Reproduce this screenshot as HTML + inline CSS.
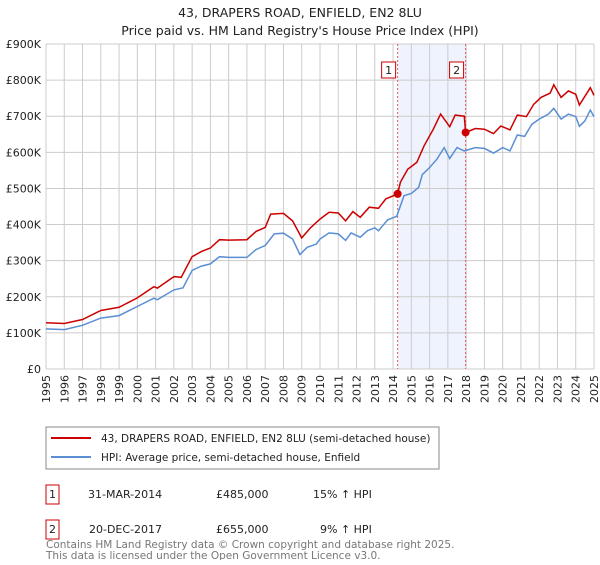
<!DOCTYPE html>
<html><head><meta charset="utf-8"><style>
body{margin:0;background:#fff;font-family:"Liberation Sans","DejaVu Sans",sans-serif;}
svg text{font-family:"DejaVu Sans","Liberation Sans",sans-serif;}
</style></head><body>
<svg id="c" width="600" height="560" viewBox="0 0 600 560">
<text x="300" y="17" text-anchor="middle" font-size="12.5" fill="#222">43, DRAPERS ROAD, ENFIELD, EN2 8LU</text>
<text x="300" y="35" text-anchor="middle" font-size="12.5" fill="#222">Price paid vs. HM Land Registry's House Price Index (HPI)</text>
<g id="plot"></g>
<rect x="46" y="427" width="393" height="42" fill="#fff" stroke="#888"/>
<line x1="51" y1="438" x2="91" y2="438" stroke="#cc0000" stroke-width="2"/>
<text x="101" y="442" font-size="10.5" fill="#222">43, DRAPERS ROAD, ENFIELD, EN2 8LU (semi-detached house)</text>
<line x1="51" y1="457" x2="91" y2="457" stroke="#5b8fd4" stroke-width="2"/>
<text x="101" y="461" font-size="10.5" fill="#222">HPI: Average price, semi-detached house, Enfield</text>
<rect x="46" y="485" width="13" height="19" fill="#fff" stroke="#cc0000"/>
<text x="52.5" y="498" text-anchor="middle" font-size="11" fill="#222">1</text>
<text x="88" y="498" font-size="11" fill="#222">31-MAR-2014</text>
<text x="216" y="498" font-size="11" fill="#222">£485,000</text>
<text x="313" y="498" font-size="11" fill="#222">15% ↑ HPI</text>
<rect x="46" y="520" width="13" height="19" fill="#fff" stroke="#cc0000"/>
<text x="52.5" y="533" text-anchor="middle" font-size="11" fill="#222">2</text>
<text x="89" y="533" font-size="11" fill="#222">20-DEC-2017</text>
<text x="216" y="533" font-size="11" fill="#222">£655,000</text>
<text x="320" y="533" font-size="11" fill="#222">9% ↑ HPI</text>
<text x="46" y="548" font-size="10.5" fill="#777">Contains HM Land Registry data © Crown copyright and database right 2025.</text>
<text x="46" y="559" font-size="10.5" fill="#777">This data is licensed under the Open Government Licence v3.0.</text>
</svg>
<script>
const hpiYears=[1995,1996,1997,1998,1999,2000,2000.9,2001.1,2002,2002.5,2003,2003.5,2004,2004.5,2005,2006,2006.5,2007,2007.5,2008,2008.5,2008.9,2009.3,2009.8,2010,2010.5,2011,2011.4,2011.7,2012.2,2012.6,2013,2013.2,2013.7,2014.2,2014.6,2015,2015.4,2015.6,2016,2016.4,2016.8,2017.1,2017.5,2017.9,2018.5,2019,2019.5,2020,2020.4,2020.8,2021.2,2021.6,2022,2022.5,2022.8,2023.2,2023.6,2024,2024.2,2024.5,2024.8,2025];
const hpiValues=[111,109,121,141,148,173,196,192,219,225,273,285,291,311,309,309,331,342,374,376,360,317,337,346,360,377,374,356,377,365,383,391,383,413,423,480,486,503,538,558,581,613,583,613,604,613,611,598,613,604,648,644,678,692,706,722,692,706,699,672,687,717,699];
const redYears=[1995,1996,1997,1998,1999,2000,2000.9,2001.1,2002,2002.4,2003,2003.5,2004,2004.5,2005,2006,2006.5,2007,2007.3,2008,2008.5,2009,2009.5,2010,2010.5,2011,2011.4,2011.8,2012.2,2012.7,2013.2,2013.6,2014.25,2014.4,2014.8,2015.3,2015.7,2016.2,2016.6,2017.1,2017.4,2017.9,2017.97,2018.5,2019,2019.5,2019.9,2020.4,2020.8,2021.3,2021.7,2022.1,2022.6,2022.8,2023.2,2023.6,2024,2024.2,2024.8,2025];
const redValues=[128,126,137,162,171,197,228,224,256,254,311,325,335,358,357,358,381,392,429,431,410,363,392,415,434,432,410,436,420,448,445,471,485,517,553,572,618,664,706,671,703,700,655,666,664,652,673,662,703,699,733,752,764,787,752,770,761,731,779,758];
const saleYears=[2014.25,2017.97];
const saleValues=[485,655];
const yTicks=[0,100,200,300,400,500,600,700,800,900];
const yTickLabels=["£0","£100K","£200K","£300K","£400K","£500K","£600K","£700K","£800K","£900K"];
const NS='http://www.w3.org/2000/svg';
const L=46,R=594,T=44,B=369,Y0=1995,Y1=2025,VMAX=900;
const xs=y=>L+(y-Y0)/(Y1-Y0)*(R-L);
const ys=v=>B-v/VMAX*(B-T);
const g=document.getElementById('plot');
function mk(t,a){const e=document.createElementNS(NS,t);for(const k in a)e.setAttribute(k,a[k]);g.appendChild(e);return e;}
let e=mk('rect',{x:xs(saleYears[0]),y:T,width:xs(saleYears[1])-xs(saleYears[0]),height:B-T,fill:'#eef3fd'});


for(let y=Y0;y<=Y1;y++){
 e=mk('line',{x1:xs(y),x2:xs(y),y1:T,y2:B,stroke:'#cccccc','stroke-width':1});
 
 
 e=mk('text',{x:0,y:0,'font-size':11,fill:'#222','text-anchor':'end',transform:`translate(${xs(y)+4},${B+6}) rotate(-90)`});
 e.textContent=y;
 
 
}
yTicks.forEach((v,i)=>{
 e=mk('line',{x1:L,x2:R,y1:ys(v),y2:ys(v),stroke:'#cccccc','stroke-width':1});
 
 
 e=mk('text',{x:L-5,y:ys(v)+4,'font-size':11,fill:'#222','text-anchor':'end'});
 e.textContent=yTickLabels[i];
 
 
});
saleYears.forEach((y,i)=>{
 e=mk('line',{x1:xs(y),x2:xs(y),y1:T,y2:B,stroke:'#e06060','stroke-width':1,'stroke-dasharray':'2,2'});
 
 
 e=mk('rect',{x:xs(y)-16,y:62,width:14,height:16,fill:'#fff',stroke:'#cc0000'});
 
 
 e=mk('text',{x:xs(y)-9,y:74,'font-size':11,fill:'#222','text-anchor':'middle'});
 e.textContent=i+1;
 
 
});
const path=(xa,va)=>xa.map((y,i)=>(i?'L':'M')+xs(y).toFixed(1)+','+ys(va[i]).toFixed(1)).join('');
e=mk('path',{d:path(hpiYears,hpiValues),fill:'none',stroke:'#5b8fd4','stroke-width':1.5});


e=mk('path',{d:path(redYears,redValues),fill:'none',stroke:'#cc0000','stroke-width':1.5});


saleYears.forEach((y,i)=>{
 e=mk('circle',{cx:xs(y),cy:ys(saleValues[i]),r:4,fill:'#cc0000'});
 
 
});
</script>
</body></html>
